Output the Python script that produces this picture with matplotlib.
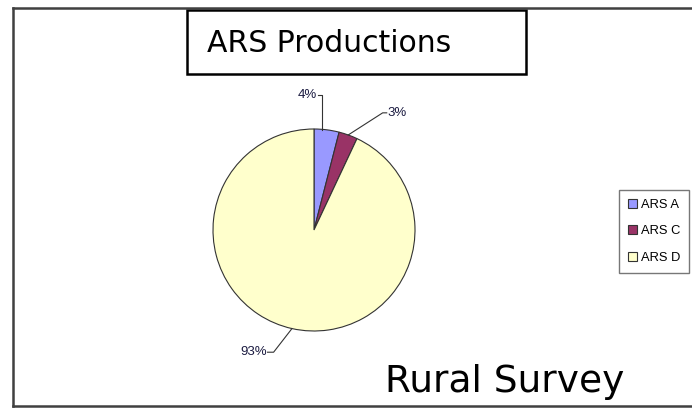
import numpy as np
import matplotlib
matplotlib.use("Agg")
import matplotlib.pyplot as plt
from matplotlib.lines import Line2D
from matplotlib.patches import Rectangle

categories = ["ARS A", "ARS C", "ARS D"]
values = [4, 3, 93]
pct_labels = ["4%", "3%", "93%"]
colors = ["#9999FF", "#993366", "#FFFFCC"]

W, H = 692, 411
fig = plt.figure(figsize=(W / 100, H / 100), dpi=100)
fig.patch.set_facecolor("white")

def fx(px):
    return px / W

def fy(py):
    return 1 - py / H

# outer frame (left, top, bottom)
for (x0, y0, x1, y1) in [(13, 8, 13, 406), (13, 8, 692, 8), (13, 406, 692, 406)]:
    fig.add_artist(Line2D([fx(x0), fx(x1)], [fy(y0), fy(y1)], color="#404040", lw=1.8,
                          transform=fig.transFigure))

# pie
cx, cy, r = 314, 230, 101
ax = fig.add_axes([fx(cx - r), fy(cy + r), 2 * r / W, 2 * r / H])
wedges, _ = ax.pie(values, colors=colors, startangle=90, counterclock=False,
                   wedgeprops=dict(edgecolor="#333333", linewidth=0.8))
ax.set_xlim(-1, 1)
ax.set_ylim(-1, 1)
ax.set_aspect("auto")
ax.axis("off")

# label leader lines: (elbow point, end point, text anchor, ha)
label_layout = [
    ((0.08, 1.34), (0.04, 1.34), "right"),
    ((0.68, 1.16), (0.72, 1.16), "left"),
    ((-0.40, -1.21), (-0.46, -1.21), "right"),
]
for w, lab, (elbow, end, ha) in zip(wedges, pct_labels, label_layout):
    ang = np.deg2rad((w.theta1 + w.theta2) / 2)
    x0, y0 = np.cos(ang), np.sin(ang)
    if ha == "right" and elbow[1] > 0:
        pts = [(elbow[0], y0), elbow, end]
    else:
        pts = [(x0, y0), elbow, end]
    ax.plot([p[0] for p in pts], [p[1] for p in pts], color="#333333", lw=0.8, clip_on=False)
    ax.text(end[0] + (0.01 if ha == "left" else -0.01), end[1], lab, ha=ha, va="center",
            fontsize=9.5, color="#1a1a40", family="Liberation Sans", clip_on=False)

# legend
leg = fig.legend(wedges, categories, loc="upper left",
                 bbox_to_anchor=(fx(619), fy(190)), frameon=True, fancybox=False,
                 edgecolor="#555555", handlelength=0.7, handleheight=0.7,
                 handletextpad=0.3, labelspacing=1.1, borderpad=0.7, borderaxespad=0,
                 prop=dict(family="Liberation Sans", size=9.3))
leg.get_frame().set_linewidth(1.0)

# title box
fig.add_artist(Rectangle((fx(187), fy(74)), fx(526) - fx(187), fy(10) - fy(74),
                         transform=fig.transFigure, fill=False, edgecolor="black", lw=1.8))
fig.text(fx(207), fy(52), "ARS Productions", ha="left", va="baseline",
         fontsize=21.5, family="DejaVu Sans", color="black")

fig.text(fx(385), fy(392), "Rural Survey", ha="left", va="baseline",
         fontsize=27, family="DejaVu Sans", color="black")

fig.savefig("out.png", dpi=100)
